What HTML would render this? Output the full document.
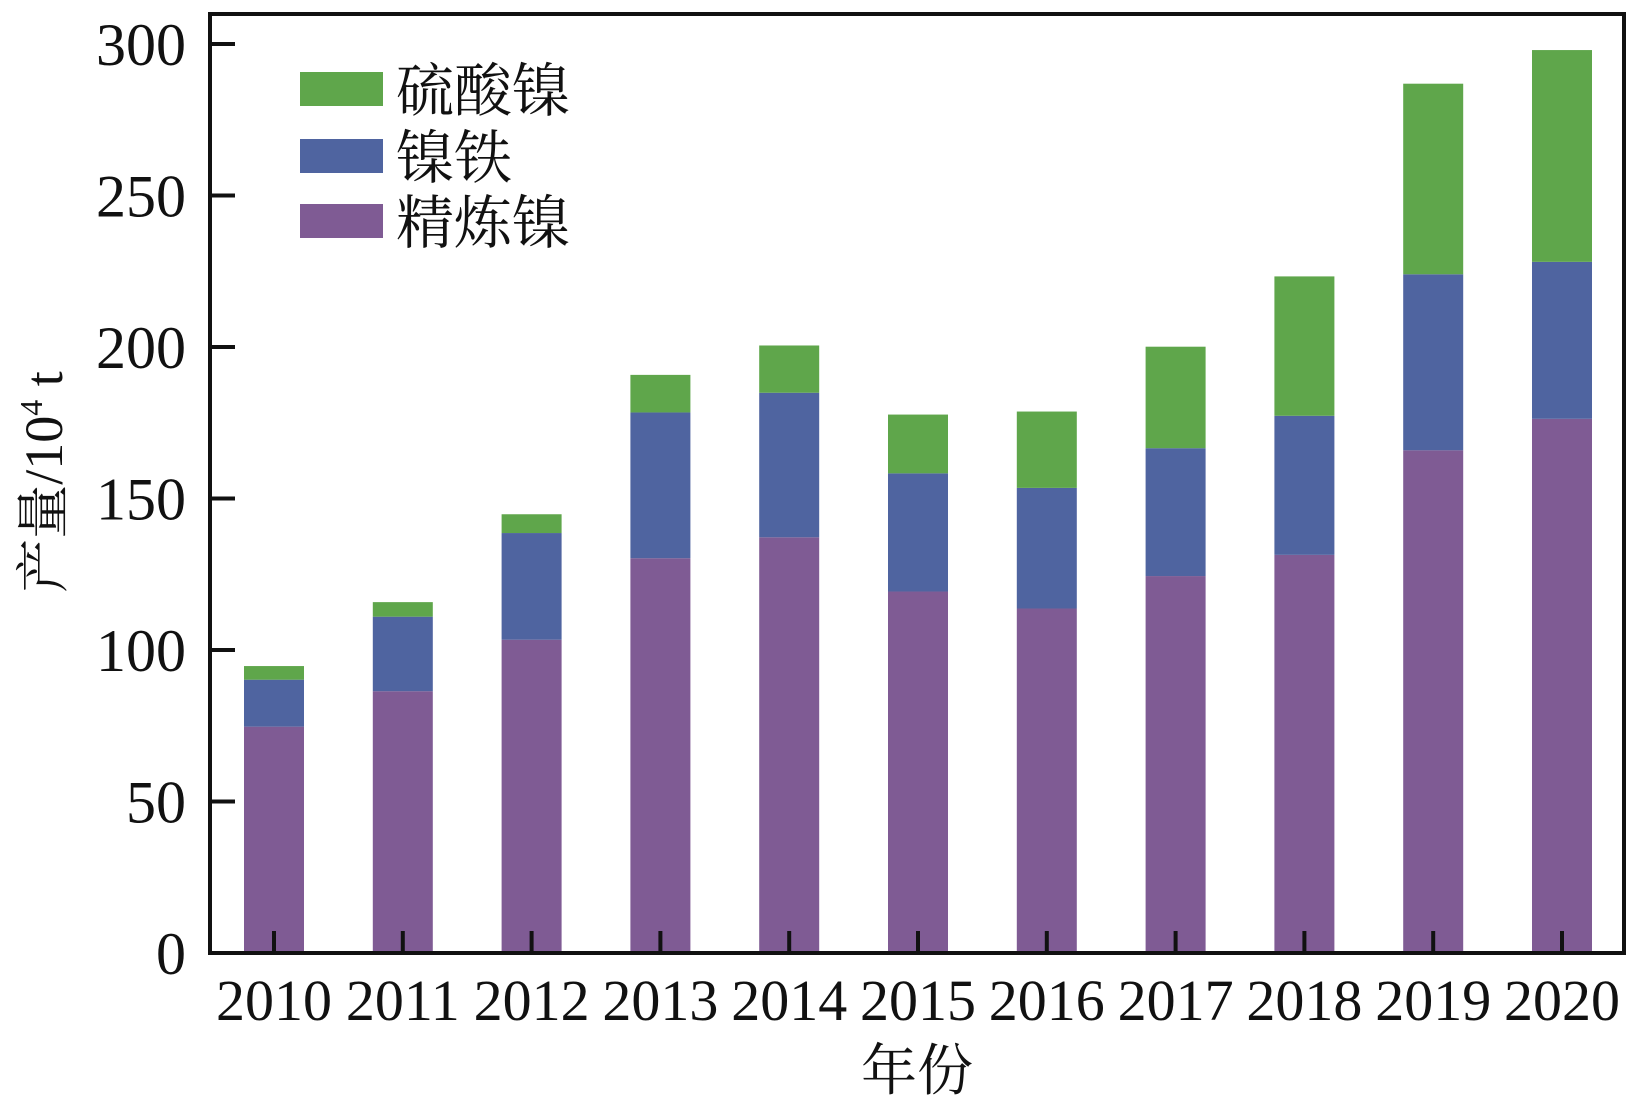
<!DOCTYPE html>
<html><head><meta charset="utf-8"><style>
body{margin:0;background:#fff}
text{font-family:"Liberation Serif","Noto Serif CJK SC",serif;fill:#111}
</style></head><body>
<svg id="chart" width="1637" height="1114" xmlns="http://www.w3.org/2000/svg"></svg>
<script>
const years=["2010","2011","2012","2013","2014","2015","2016","2017","2018","2019","2020"];
const refined=[74.7,86.4,103.4,130.3,137.2,119.3,113.7,124.4,131.4,165.9,176.3];
const ferronickel=[15.5,24.6,35.2,48.1,47.7,39.0,39.8,42.2,45.9,58.1,51.8];
const sulfate=[4.5,4.8,6.2,12.4,15.6,19.4,25.2,33.5,46.0,62.9,69.9];
const yTicks=[0,50,100,150,200,250,300];
const seriesNames=["精炼镍","镍铁","硫酸镍"];
const colors=["#7f5b94","#4f64a0","#5fa64b"];
const NS="http://www.w3.org/2000/svg";
const svg=document.getElementById('chart');
const L=210,R=1624,T=14,B=953;
const y=v=>953-v*3.03;
const x=i=>274+i*128.8;
const bw=60;
function mk(t,a,p){const e=document.createElementNS(NS,t);for(const k in a)e.setAttribute(k,a[k]);(p||svg).appendChild(e);return e;}
const series=[refined,ferronickel,sulfate];
years.forEach((yr,i)=>{
  let base=0;
  series.forEach((s,k)=>{
    const r=mk('rect',{x:x(i)-bw/2,y:y(base+s[i]),width:bw,height:y(base)-y(base+s[i]),fill:colors[k]});
    
    
    base+=s[i];
  });
  const tk=mk('line',{x1:x(i),x2:x(i),y1:B,y2:B-22,stroke:'#111','stroke-width':4});
  
  
  const t=mk('text',{x:x(i),y:1020,'text-anchor':'middle','font-size':58});
  t.textContent=yr;
  
  
});
yTicks.forEach(v=>{
  const tk=mk('line',{x1:L,x2:L+25,y1:y(v),y2:y(v),stroke:'#111','stroke-width':4});
  
  
  const t=mk('text',{x:186,y:y(v)+21,'text-anchor':'end','font-size':60});
  t.textContent=v;
  
  
});
const frame=mk('rect',{x:L,y:T,width:R-L,height:B-T,fill:'none',stroke:'#111','stroke-width':4});


const xt=mk('text',{x:917,y:1090,'text-anchor':'middle','font-size':56});
xt.textContent='年份';


const yt=mk('text',{transform:'translate(62,482) rotate(-90)','text-anchor':'middle','font-size':54});
yt.innerHTML='产量/10<tspan dy="-20" font-size="32">4</tspan><tspan dy="20"> t</tspan>';


const legY=[72,139,204];
[2,1,0].forEach((k,j)=>{
  const r=mk('rect',{x:300,y:legY[j],width:83,height:34,fill:colors[k]});
  
  
  const t=mk('text',{x:396,y:legY[j]+39,'font-size':58});
  t.textContent=seriesNames[k];
  
  
});
</script>
</body></html>
